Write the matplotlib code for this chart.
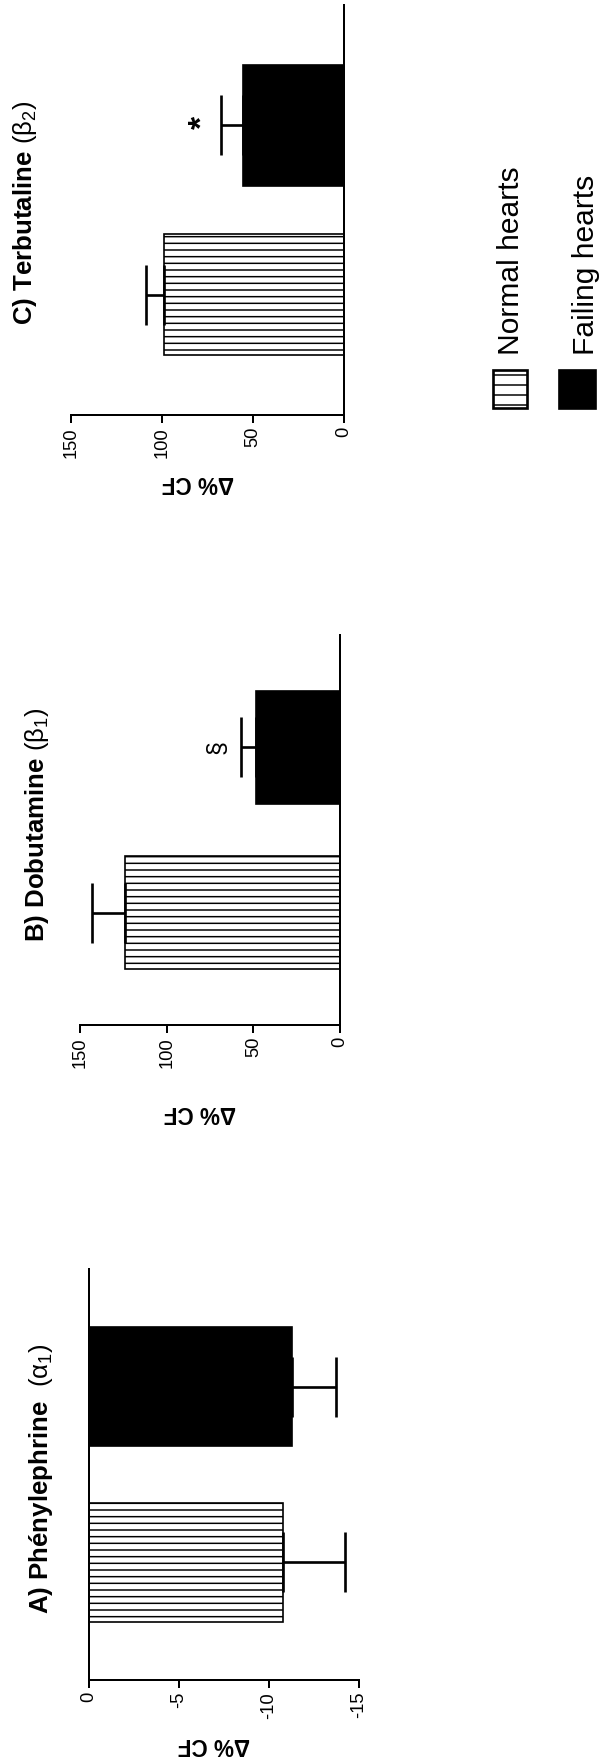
import matplotlib
matplotlib.use('Agg')
import matplotlib.pyplot as plt
from matplotlib.patches import Rectangle

plt.rcParams['font.family'] = ['Liberation Sans', 'DejaVu Sans']
plt.rcParams['mathtext.fontset'] = 'custom'
plt.rcParams['mathtext.rm'] = 'Liberation Sans'
plt.rcParams['mathtext.it'] = 'Liberation Sans'
plt.rcParams['mathtext.bf'] = 'Liberation Sans:bold'
plt.rcParams['axes.unicode_minus'] = False
plt.rcParams['hatch.linewidth'] = 0.9
plt.rcParams['hatch.color'] = 'black'

# ---------------- data ----------------
groups = ['Normal hearts', 'Failing hearts']
titles = [r'A) Phénylephrine  $(\alpha_1)$',
          r'B) Dobutamine $(\beta_1)$',
          r'C) Terbutaline $(\beta_2)$']
ylabel = 'Δ% CF'

phe_mean = [-10.8, -11.3]
phe_sem = [3.4, 2.4]
dob_mean = [124, 48.5]
dob_sem = [19, 8.6]
ter_mean = [99, 55.5]
ter_sem = [9.9, 12.1]

ticks_a = [0, -5, -10, -15]
ticks_bc = [0, 50, 100, 150]
marks = {'B': '§', 'C': '*'}

# ---------------- layout ----------------
W, H, DPI = 603, 1762, 120
fig = plt.figure(figsize=(W / DPI, H / DPI), dpi=DPI)
fig.patch.set_facecolor('white')


def rect(x0, x1, y_top, y_bot):
    return [x0 / W, 1 - y_bot / H, (x1 - x0) / W, (y_bot - y_top) / H]


def fpos(px, py):
    return px / W, 1 - py / H


panels = [
    # key, title, means, sems, xlim, ticks, axes rect (px), margin, bar height,
    # title centre-x / bottom-y (px), title length (px), ylabel centre (px)
    ('A', titles[0], phe_mean, phe_sem, (0, -15), ticks_a, rect(89, 359, 1269, 1680), 0.67, 0.68, (41, 1614), 279, (214, 1745)),
    ('B', titles[1], dob_mean, dob_sem, (150, 0), ticks_bc, rect(80, 340, 635, 1025), 0.68, 0.68, (37, 942), 224, (200, 1113)),
    ('C', titles[2], ter_mean, ter_sem, (150, 0), ticks_bc, rect(71, 344, 5, 415), 0.713, 0.72, (25, 325), 229, (198, 483)),
]

pos = [0, 1]
title_texts = []
for key, title, means, sems, xlim, ticks, r, mg, bh, tpos, tlen, lpos in panels:
    ax = fig.add_axes(r)
    ax.barh(pos[0], means[0], height=bh, color='white', edgecolor='black',
            linewidth=1.0, hatch='---', zorder=2)
    ax.barh(pos[1], means[1], height=bh, color='black', edgecolor='black',
            linewidth=1.0, zorder=2)
    if means[0] < 0:
        xerr = [sems, [0, 0]]
    else:
        xerr = [[0, 0], sems]
    ax.errorbar(means, pos, xerr=xerr, fmt='none', ecolor='black',
                elinewidth=1.6, capsize=18, capthick=1.6, zorder=3)
    ax.set_xlim(*xlim)
    ax.set_ylim(-mg, 1 + mg)
    ax.set_xticks(ticks)
    ax.set_xticklabels([str(t) for t in ticks], rotation=90, fontsize=11)
    ax.tick_params(axis='x', direction='out', length=4.8, width=1.2, pad=2.4)
    ax.set_yticks([])
    ax.spines['top'].set_visible(False)
    if key == 'A':
        ax.spines['right'].set_visible(False)
    else:
        ax.spines['left'].set_visible(False)
    for s in ['bottom', 'left', 'right']:
        ax.spines[s].set_linewidth(1.2)
    ax.set_facecolor('none')

    if key in marks:
        val = means[1] + sems[1]
        if key == 'C':
            ax.annotate(marks[key], xy=(val, pos[1]), xytext=(-11, 2),
                        textcoords='offset points', ha='center', va='center',
                        rotation=90, fontsize=20, fontweight='bold')
        else:
            ax.annotate(marks[key], xy=(val, pos[1]), xytext=(-14, 0),
                        textcoords='offset points', ha='center', va='center',
                        rotation=90, fontsize=15)

    tx, ty = fpos(*tpos)
    t = fig.text(tx, ty, title, rotation=90, ha='center', va='bottom',
                 fontsize=15, fontweight='bold')
    title_texts.append((t, tlen))
    lx, ly = fpos(*lpos)
    fig.text(lx, ly, ylabel, rotation=180, ha='center', va='center',
             fontsize=13.5, fontweight='bold')

# fit the panel titles to the length they have in the reference (common size)
fig.canvas.draw()
renderer = fig.canvas.get_renderer()
ratios = [tl / t.get_window_extent(renderer).height for t, tl in title_texts]
fs = 15 * sum(ratios) / len(ratios)
for t, _ in title_texts:
    t.set_fontsize(fs)

# ---------------- legend ----------------
legend_boxes = [((493, 527, 370, 408), 'white', '--'), ((559, 595, 370, 408), 'black', None)]
legend_text_pos = [(511, 355), (586, 355)]
for (box, fc, hatch), label, tp in zip(legend_boxes, groups, legend_text_pos):
    x0, x1, yt, yb = box
    bx, by = fpos(x0, yb)
    fig.add_artist(Rectangle((bx, by), (x1 - x0) / W, (yb - yt) / H,
                             transform=fig.transFigure, facecolor=fc,
                             edgecolor='black', linewidth=1.6, hatch=hatch))
    px, py = fpos(*tp)
    fig.text(px, py, label, rotation=90, ha='center', va='bottom', fontsize=18)

fig.savefig('out.png', dpi=DPI, facecolor='white')
